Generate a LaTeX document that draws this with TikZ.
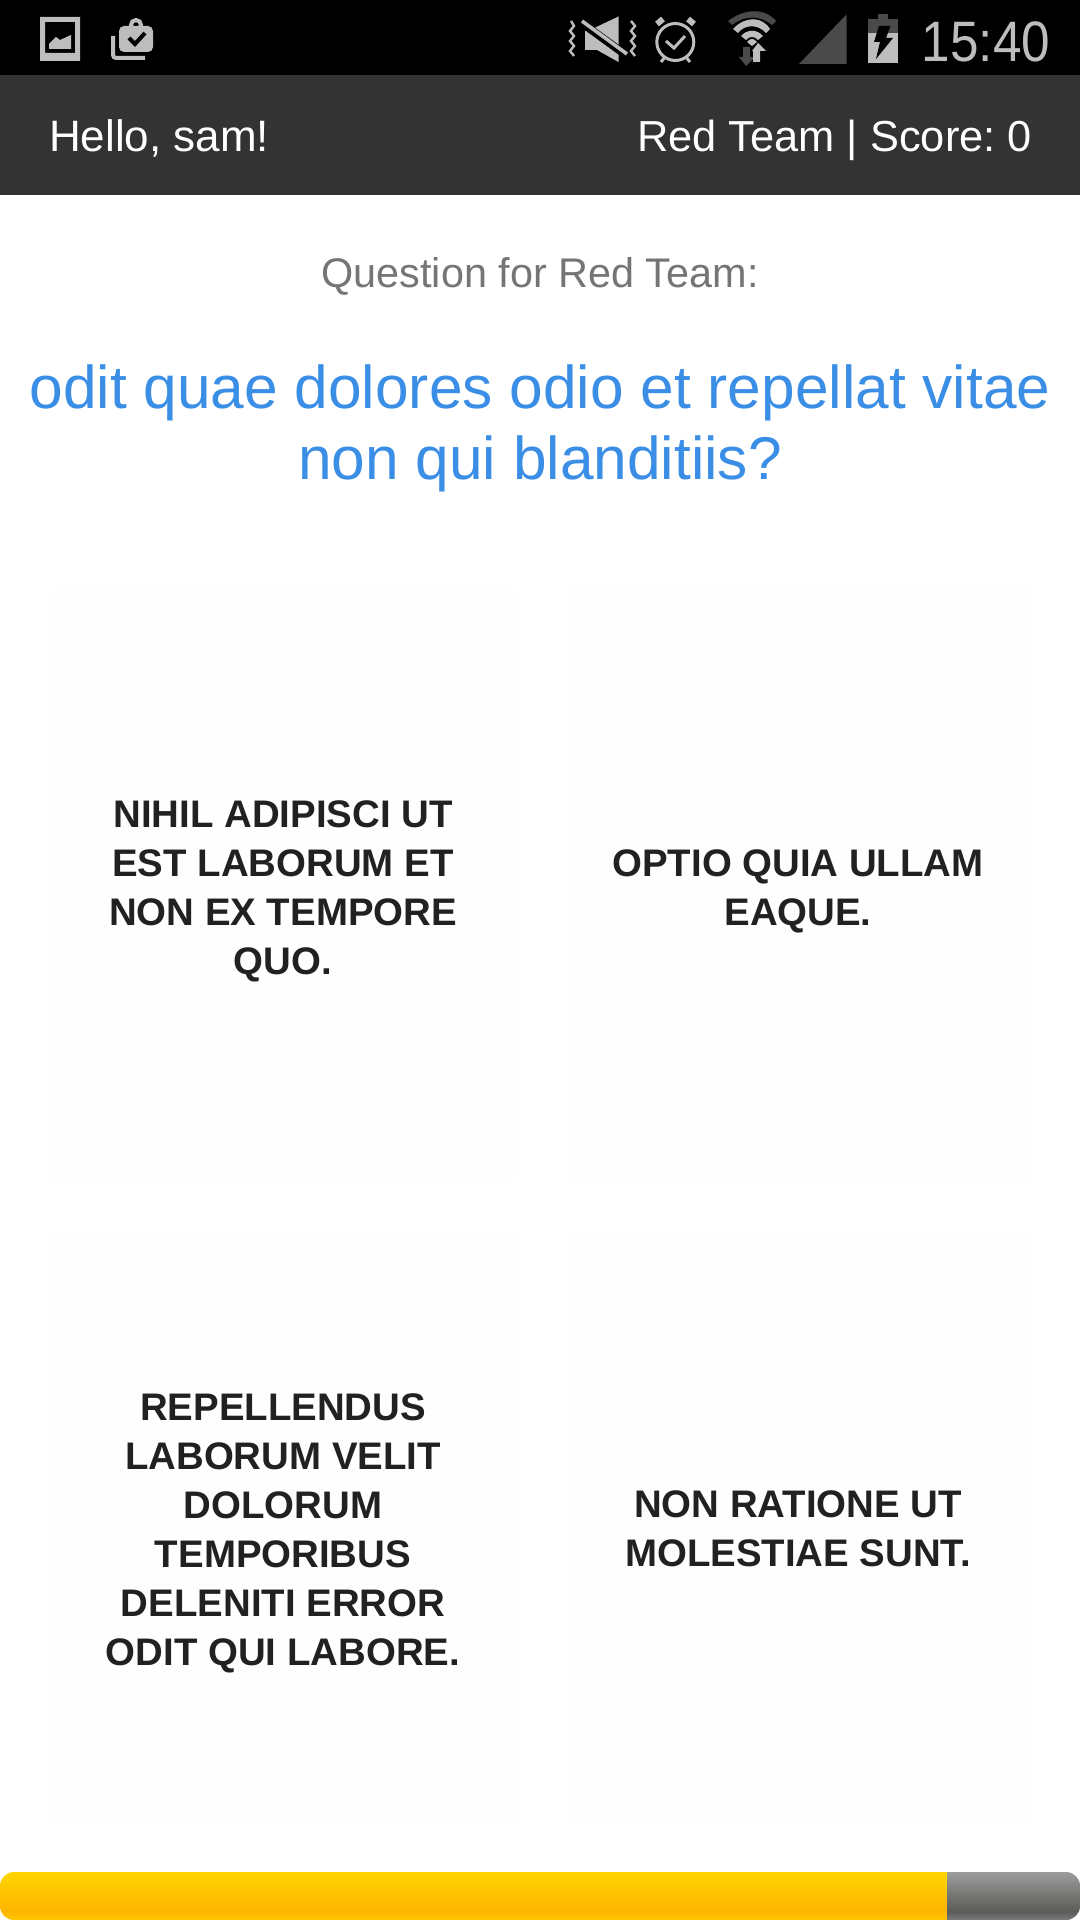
\documentclass[tikz,border=0pt]{standalone}
\usepackage{fontspec}
\setmainfont{Liberation Sans}
\usetikzlibrary{shapes.geometric}
\definecolor{barc}{HTML}{333333}
\definecolor{iconc}{HTML}{BDBDBD}
\definecolor{dimc}{HTML}{4A4A4A}
\definecolor{greyt}{HTML}{757575}
\definecolor{bluet}{HTML}{3A8EE6}
\definecolor{inkc}{HTML}{212121}
\definecolor{cardc}{HTML}{FEFEFE}
\definecolor{y1}{HTML}{FFD500}
\definecolor{y2}{HTML}{FFB400}
\definecolor{y3}{HTML}{FFC800}
\definecolor{g1}{HTML}{9C9C9C}
\definecolor{g2}{HTML}{5A5C58}
\definecolor{g3}{HTML}{7C7C7C}
\pgfdeclareverticalshading{yelbar}{100bp}{color(0bp)=(y3);color(25bp)=(y3);color(34bp)=(y2);color(75bp)=(y1);color(100bp)=(y1)}
\pgfdeclareverticalshading{grybar}{100bp}{color(0bp)=(g3);color(25bp)=(g3);color(34bp)=(g2);color(75bp)=(g1);color(100bp)=(g1)}
\tikzset{
  txt/.style={inner sep=0pt,outer sep=0pt,align=center},
  hdr/.style={txt,text=white,font=\fontsize{22}{26}\selectfont},
  cardtext/.style={txt,text=inkc,font=\fontsize{19.2}{24.5}\selectfont\bfseries},
  cardbox/.style={fill=cardc,draw=none,rounded corners=2pt},
  icon/.style={fill=iconc,draw=none},
  iconline/.style={draw=iconc,line width=2pt},
}
\frenchspacing
\begin{document}
\begin{tikzpicture}[x=0.5pt,y=-0.5pt]
\useasboundingbox (0,0) rectangle (1080,1920);
\fill[white] (0,0) rectangle (1080,1920);
% status bar and header
\fill[black] (0,0) rectangle (1080,75);
\fill[barc] (0,75) rectangle (1080,195);
% image icon
\fill[icon,even odd rule] (40,17) rectangle (80,61) (45,22) rectangle (75,53);
\fill[icon] (49,49) -- (49,44) -- (56,37) -- (60,40) -- (71,35) -- (71,49) -- cycle;
% briefcase icon
\draw[iconline] (136,25) circle (5);
\fill[icon,rounded corners=2.5pt] (119,26) rectangle (153,52);
\draw[black,line width=2pt] (129,38) -- (135,44) -- (145,33);
\draw[draw=iconc,line width=2pt,rounded corners=1.5pt] (113,36) -- (113,58) -- (145,58);
% mute vibrate icon
\fill[icon] (590,30) -- (618.5,16.5) -- (618.5,62) -- (597,50) -- (585,50) -- (585,31) -- cycle;
\draw[black,line width=4pt] (575,18) -- (630,58);
\draw[draw=iconc,line width=1.8pt] (582,21) -- (627,54);
\draw[draw=iconc,line width=1.2pt] (571,21) -- (574,26) -- (570,31) -- (574,36) -- (570,41) -- (574,46) -- (570,51) -- (574,56);
\draw[draw=iconc,line width=1.2pt] (631,21) -- (635,26) -- (631,31) -- (635,36) -- (631,41) -- (635,46) -- (631,51) -- (635,56);
% alarm icon
\draw[draw=iconc,line width=1.5pt] (675.3,42) circle (18.5);
\draw[draw=iconc,line width=3pt] (657,24) -- (663,19);
\draw[draw=iconc,line width=3pt] (688,19) -- (694,24);
\draw[draw=iconc,line width=1.5pt] (665,57) -- (661,62);
\draw[draw=iconc,line width=1.5pt] (686,57) -- (690,62);
\draw[draw=iconc,line width=1.5pt] (666,41) -- (674,48) -- (685,36);
% wifi icon
\fill[dimc] (728,21) .. controls (745,8) and (765,8) .. (776,21) -- (772,25) .. controls (760,15) and (745,15) .. (732,25) -- cycle;
\fill[icon] (733,29) .. controls (745,16) and (762,16) .. (770,29) -- (766,33) .. controls (758,24) and (745,24) .. (738,33) -- cycle;
\fill[icon] (741,36) .. controls (747,29) and (757,29) .. (763,36) -- (758,40) .. controls (755,36) and (749,36) .. (746,40) -- cycle;
\fill[icon] (747,42) .. controls (750,38) and (754,38) .. (757,42) -- (752,46) -- cycle;
\fill[dimc] (743,47) -- (750,47) -- (750,57) -- (755,57) -- (746,66) -- (739,57) -- (743,57) -- cycle;
\fill[icon] (753,62) -- (760,62) -- (760,51) -- (766,51) -- (758,43) -- (752,51) -- (753,51) -- cycle;
% signal icon
\fill[dimc] (799,64) -- (846.5,64) -- (846.5,14.5) -- cycle;
% battery icon
\fill[dimc] (877.5,14) rectangle (888,20);
\fill[dimc] (868,19) rectangle (898,34);
\fill[icon] (868,33) rectangle (898,63);
\fill[black] (879,26) -- (890.5,26) -- (886,38) -- (893,38) -- (876,59) -- (880,42) -- (874,42) -- cycle;
% status time
\node[txt,text=iconc,font=\fontsize{28.5}{30}\selectfont,xscale=0.9,anchor=base] (clock) at (986,62) {15:40};
% header
\node[hdr,anchor=base west] (hello) at (49,152) {Hello, sam!};
\node[hdr,font=\fontsize{21.7}{26}\selectfont,anchor=base east] (score) at (1032,152) {Red Team | Score: 0};
% question
\node[txt,text=greyt,font=\fontsize{20.7}{24}\selectfont,anchor=base] (qlabel) at (540,288) {Question for Red Team:};
\node[txt,text=bluet,font=\fontsize{30.2}{35.5}\selectfont] (question) at (540,428) {odit quae dolores odio et repellat vitae\\non qui blanditiis?};
% cards
\fill[cardbox] (49,588) rectangle (515,1181);
\fill[cardbox] (566,588) rectangle (1032,1181);
\fill[cardbox] (49,1232) rectangle (515,1825);
\fill[cardbox] (566,1232) rectangle (1032,1825);
\node[cardtext] (c1) at (283,891) {NIHIL ADIPISCI UT\\EST LABORUM ET\\NON EX TEMPORE\\QUO.};
\node[cardtext] (c2) at (798,891) {OPTIO QUIA ULLAM\\EAQUE.};
\node[cardtext] (c3) at (283,1533) {REPELLENDUS\\LABORUM VELIT\\DOLORUM\\TEMPORIBUS\\DELENITI ERROR\\ODIT QUI LABORE.};
\node[cardtext] (c4) at (798,1529) {NON RATIONE UT\\MOLESTIAE SUNT.};
% progress bar
\begin{scope}
\clip[rounded corners=7pt] (0,1872) rectangle (1080,1920);
\shade[shading=yelbar] (0,1872) rectangle (947,1920);
\shade[shading=grybar] (947,1872) rectangle (1080,1920);
\end{scope}
\end{tikzpicture}
\end{document}
